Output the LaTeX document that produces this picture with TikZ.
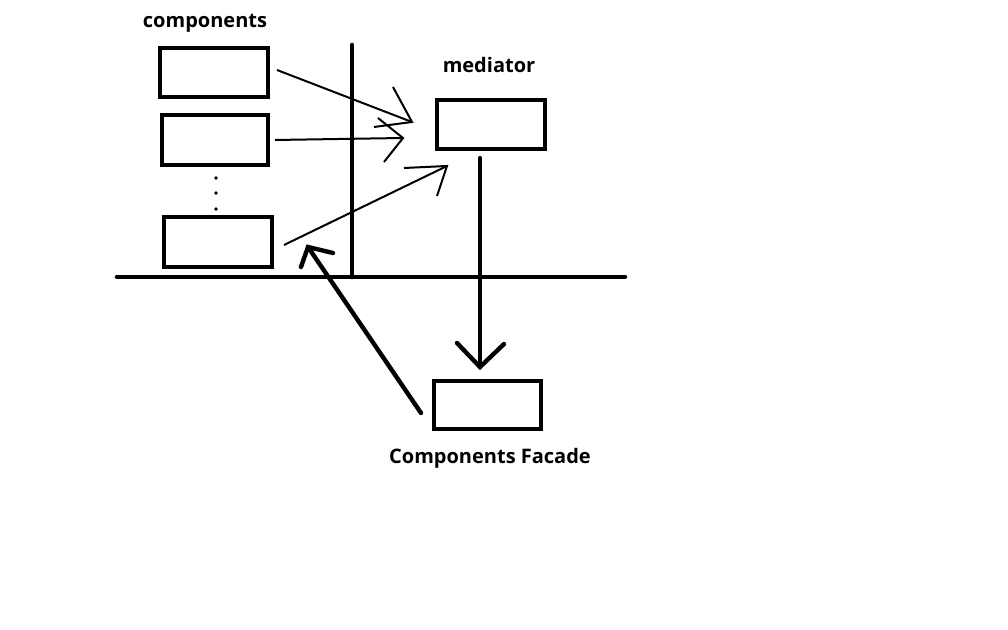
\documentclass[tikz,border=0pt]{standalone}
\usepackage{fontspec}
\setmainfont{Open Sans}
\usetikzlibrary{arrows.meta}
\newlength{\pxu}\setlength{\pxu}{0.75pt}
\tikzset{
  box/.style={draw, line width=3pt, minimum width=105\pxu, minimum height=48\pxu, inner sep=0pt},
  thinarrow/.style={line width=1.5pt},
  thickarrow/.style={line width=3.3pt},
  axis/.style={line width=3.4pt},
  lbl/.style={font=\bfseries\fontsize{15}{17}\selectfont, inner sep=0pt}
}
\begin{document}
\begin{tikzpicture}[x=0.75pt,y=-0.75pt]
\useasboundingbox (0,0) rectangle (1008,630);
% boxes
\node[box, minimum width=108\pxu, minimum height=49\pxu] (c1) at (214,72.5) {};
\node[box, minimum width=106\pxu, minimum height=50\pxu] (c2) at (215,140) {};
\node[box, minimum width=108\pxu, minimum height=50\pxu] (c3) at (218,242) {};
\node[box, minimum width=108\pxu, minimum height=49\pxu] (med) at (491,124.5) {};
\node[box, minimum width=107\pxu, minimum height=48\pxu] (fac) at (487.5,405) {};
% labels
\node[lbl] (lc) at (205,23) {components};
\node[lbl] (lm) at (489,65) {mediator};
\node[lbl] (lf) at (490,458) {Components Facade};
% dots
\fill (216,178) circle (1.8) (216,193) circle (1.8) (216,209) circle (1.8);
% axes
\coordinate (vt) at (352,45);
\coordinate (vb) at (352,277);
\coordinate (hl) at (117,277);
\coordinate (hr) at (625,277);
\draw[axis, line cap=round] (vt) -- (vb);
\draw[axis, line cap=round] (hl) -- (hr);
% arrow coordinates
\coordinate (a1s) at (277,70);   \coordinate (a1t) at (412,122);
\coordinate (a1b1) at (393,87);  \coordinate (a1b2) at (374,127);
\coordinate (a2s) at (275,140);  \coordinate (a2t) at (403,138);
\coordinate (a2b1) at (378,118); \coordinate (a2b2) at (384,162);
\coordinate (a3s) at (284,245);  \coordinate (a3t) at (447,166);
\coordinate (a3b1) at (404,168); \coordinate (a3b2) at (437,196);
\coordinate (a4s) at (480,158);  \coordinate (a4t) at (480,367);
\coordinate (a4b1) at (457,343); \coordinate (a4b2) at (504,344);
\coordinate (a5s) at (421,413);  \coordinate (a5t) at (308,247);
\coordinate (a5b1) at (301,267); \coordinate (a5b2) at (333,253);
% thin arrows: components -> mediator
\draw[thinarrow] (a1s) -- (a1t);
\draw[thinarrow] (a1b1) -- (a1t) -- (a1b2);
\draw[thinarrow] (a2s) -- (a2t);
\draw[thinarrow] (a2b1) -- (a2t) -- (a2b2);
\draw[thinarrow] (a3s) -- (a3t);
\draw[thinarrow] (a3b1) -- (a3t) -- (a3b2);
% thick arrows
\draw[thickarrow, line cap=round] (a4s) -- (a4t);
\draw[thickarrow, line cap=round, line join=miter] (a4b1) -- (a4t) -- (a4b2);
\draw[thickarrow, line cap=round] (a5s) -- (a5t);
\draw[thickarrow, line cap=round, line join=miter] (a5b1) -- (a5t) -- (a5b2);
\end{tikzpicture}
\end{document}
